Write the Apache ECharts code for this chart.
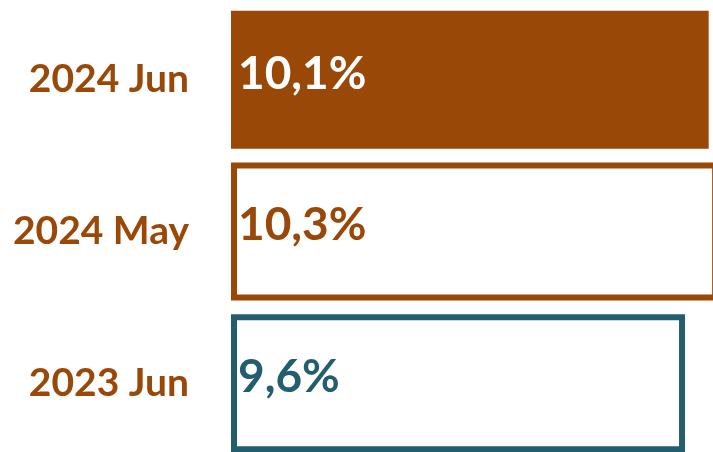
<!DOCTYPE html>
<html>
<head>
<meta charset="utf-8">
<script src="https://cdn.jsdelivr.net/npm/echarts@6/dist/echarts.min.js"></script>
<style>
  html, body { margin: 0; padding: 0; background: #fff; overflow: hidden; }
  /* wider than the window: the long bars run off the right edge */
  #chart { width: 780px; height: 452px; }
</style>
</head>
<body>
<div id="chart"></div>
<script>
// top to bottom
const categories = ['2024 Jun', '2024 May', '2023 Jun'];
const values = [10.1, 10.3, 9.6];

const brown = '#994808';
const teal = '#245e6e';

const barStyles = [
  { fill: brown, border: brown, borderWidth: 3, text: '#ffffff' },
  { fill: '#ffffff', border: brown, borderWidth: 6, text: brown },
  { fill: '#ffffff', border: teal, borderWidth: 6, text: teal }
];

const chart = echarts.init(document.getElementById('chart'));

chart.setOption({
  animation: false,
  grid: { left: 231, width: 682, top: 4, height: 455, outerBoundsMode: 'none' },
  xAxis: {
    type: 'value',
    min: 0,
    max: 14.42,
    show: false
  },
  yAxis: {
    type: 'category',
    inverse: true,
    data: categories,
    axisLine: { show: false },
    axisTick: { show: false },
    axisLabel: {
      margin: 42,
      color: brown,
      fontFamily: 'Lato',
      fontWeight: 'bold',
      fontSize: 39
    }
  },
  series: [{
    type: 'bar',
    barWidth: 138,
    clip: false,
    data: values.map((v, i) => ({
      value: v,
      itemStyle: {
        color: barStyles[i].fill,
        borderColor: barStyles[i].border,
        borderWidth: barStyles[i].borderWidth
      },
      label: { color: barStyles[i].text }
    })),
    label: {
      show: true,
      position: 'insideLeft',
      distance: 7,
      offset: [0, -6],
      fontFamily: 'Lato',
      fontWeight: 'bold',
      fontSize: 46,
      formatter: p => String(p.value).replace('.', ',') + '%'
    }
  }]
});
</script>
</body>
</html>
